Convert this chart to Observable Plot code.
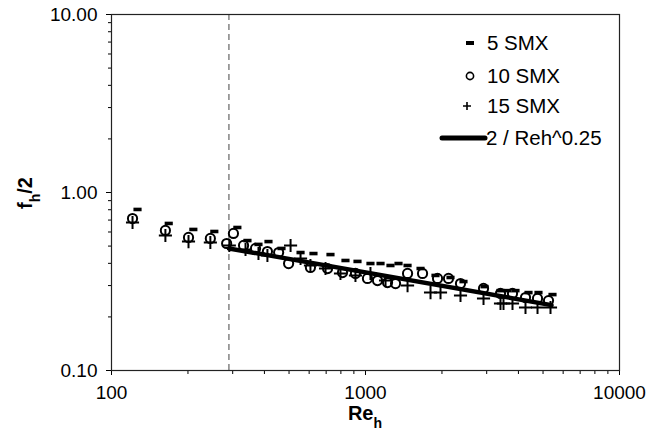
<!DOCTYPE html>
<html><head><meta charset="utf-8">
<script src="https://cdn.jsdelivr.net/npm/d3@7"></script>
<script src="https://cdn.jsdelivr.net/npm/@observablehq/plot@0.6"></script>
<style>
body{margin:0;background:#fff}
#chart{position:relative;width:671px;height:441px}
</style>
</head><body><div id="chart"></div>
<script>
// ---- data ----
const re5  = [126.6, 168, 210, 254, 313, 343, 379, 415, 467, 555, 624, 728, 834, 930, 1046, 1146, 1254, 1349, 1464, 1647, 1886, 2161, 2431, 2942, 3400, 3623, 3895, 4383, 4798, 5448];
const f5   = [0.803, 0.670, 0.620, 0.604, 0.636, 0.537, 0.511, 0.530, 0.485, 0.460, 0.454, 0.448, 0.415, 0.410, 0.399, 0.399, 0.389, 0.399, 0.389, 0.374, 0.342, 0.333, 0.316, 0.296, 0.281, 0.281, 0.281, 0.274, 0.274, 0.267];
const re10 = [121, 163, 201, 245, 284, 302, 331, 369, 411, 455, 498, 607, 709, 812, 913, 1018, 1115, 1221, 1313, 1464, 1677, 1921, 2122, 2366, 2915, 3400, 3791, 4265, 4756, 5254];
const f10  = [0.714, 0.612, 0.559, 0.552, 0.517, 0.589, 0.504, 0.485, 0.466, 0.460, 0.399, 0.379, 0.374, 0.355, 0.351, 0.329, 0.320, 0.312, 0.308, 0.351, 0.351, 0.329, 0.329, 0.308, 0.289, 0.271, 0.271, 0.257, 0.254, 0.247];
const re15 = [121, 163, 201, 245, 291, 337, 379, 411, 507, 555, 607, 696, 797, 913, 1046, 1199, 1464, 1803, 1974, 2366, 2915, 3400, 3494, 3791, 4265, 4756, 5350];
const f15  = [0.678, 0.573, 0.530, 0.524, 0.504, 0.478, 0.454, 0.443, 0.504, 0.426, 0.389, 0.374, 0.351, 0.342, 0.351, 0.320, 0.300, 0.274, 0.274, 0.264, 0.254, 0.238, 0.238, 0.238, 0.226, 0.226, 0.226];
const fitRe = [290, 5400];
const fitF  = [0.485, 0.233];
const thresholdRe = [290];
const seriesNames = ["5 SMX", "10 SMX", "15 SMX", "2 / Reh^0.25"];
const xTicks = [100, 1000, 10000];
const xTickLabels = ["100", "1000", "10000"];
const xMinor = [200, 300, 400, 500, 600, 700, 800, 900, 2000, 3000, 4000, 5000, 6000, 7000, 8000, 9000];
const yTicks = [0.1, 1, 10];
const yTickLabels = ["0.10", "1.00", "10.00"];
const yMinor = [0.2, 0.3, 0.4, 0.5, 0.6, 0.7, 0.8, 0.9, 2, 3, 4, 5, 6, 7, 8, 9];

const s5  = re5.map((x, i) => ({x, y: f5[i]}));
const s10 = re10.map((x, i) => ({x, y: f10[i]}));
const s15 = re15.map((x, i) => ({x, y: f15[i]}));
const fit = fitRe.map((x, i) => ({x, y: fitF[i]}));

const dashSymbol = {draw(ctx, size) { const w = Math.sqrt(size); ctx.rect(-w / 2, -w * 0.22, w, w * 0.44); }};

const FONT = "'Liberation Sans', Arial, sans-serif";

const chart = Plot.plot({
  width: 671, height: 441,
  marginLeft: 111, marginRight: 52, marginTop: 14, marginBottom: 71,
  style: {fontFamily: FONT, fontSize: "19px", color: "#000", background: "#fff"},
  x: {type: "log", domain: [100, 10000], label: null},
  y: {type: "log", domain: [0.1, 10], label: null},
  marks: [
    Plot.ruleX(thresholdRe, {stroke: "#444", strokeWidth: 1, strokeDasharray: "6,4"}),
    Plot.line(fit, {x: "x", y: "y", stroke: "#000", strokeWidth: 4.5, strokeLinecap: "round"}),
    Plot.dot(s15, {x: "x", y: "y", symbol: "plus", r: 4.3, stroke: "#000", strokeWidth: 2}),
    Plot.dot(s10, {x: "x", y: "y", symbol: "circle", r: 4.6, stroke: "#000", fill: "none", strokeWidth: 2}),
    Plot.dot(s5, {x: "x", y: "y", symbol: dashSymbol, r: 4.6, fill: "#000", stroke: "none"}),
    Plot.axisX({ticks: xMinor, tickSize: 4, tickFormat: () => "", label: null}),
    Plot.axisX({ticks: xTicks, tickSize: 5, tickPadding: 10, tickFormat: d => xTickLabels[xTicks.indexOf(d)], label: null}),
    Plot.axisY({ticks: yMinor, tickSize: 3, tickFormat: () => "", label: null}),
    Plot.axisY({ticks: yTicks, tickSize: 5, tickPadding: 9, tickFormat: d => yTickLabels[yTicks.indexOf(d)], label: null}),
    Plot.frame({stroke: "#222", strokeWidth: 1.2})
  ]
});
document.getElementById("chart").appendChild(chart);

// ---- axis titles and legend ----
const svg = d3.select(chart);
const yt = svg.append("text")
  .attr("transform", "translate(32,193) rotate(-90)")
  .attr("text-anchor", "middle")
  .style("font-family", FONT).style("font-weight", "bold").style("font-size", "20px").attr("fill", "#000");
yt.append("tspan").text("f");
yt.append("tspan").attr("baseline-shift", "sub").style("font-size", "14px").text("h");
yt.append("tspan").text("/2");

const xt = svg.append("text")
  .attr("x", 365).attr("y", 420)
  .attr("text-anchor", "middle")
  .style("font-family", FONT).style("font-weight", "bold").style("font-size", "20px").attr("fill", "#000");
xt.append("tspan").text("Re");
xt.append("tspan").attr("baseline-shift", "sub").style("font-size", "14px").text("h");

const lg = svg.append("g").style("font-family", FONT).style("font-size", "20.5px").attr("text-anchor", "start");
const rows = [43, 76, 106, 138];
lg.append("rect").attr("x", 466).attr("y", rows[0] - 2).attr("width", 8).attr("height", 4).attr("fill", "#000");
lg.append("circle").attr("cx", 470).attr("cy", rows[1]).attr("r", 3.6).attr("fill", "none").attr("stroke", "#000").attr("stroke-width", 1.6);
lg.append("path").attr("d", `M463,${rows[2]}H471M467,${rows[2] - 4}V${rows[2] + 4}`).attr("stroke", "#000").attr("stroke-width", 1.6);
lg.append("line").attr("x1", 442).attr("x2", 485).attr("y1", rows[3]).attr("y2", rows[3]).attr("stroke", "#000").attr("stroke-width", 5).attr("stroke-linecap", "round");
seriesNames.forEach((n, i) => {
  lg.append("text").attr("x", i === 3 ? 486 : 487).attr("y", rows[i]).attr("dy", "0.35em").attr("text-anchor", "start").attr("fill", "#000").text(n);
});
</script>
</body></html>
